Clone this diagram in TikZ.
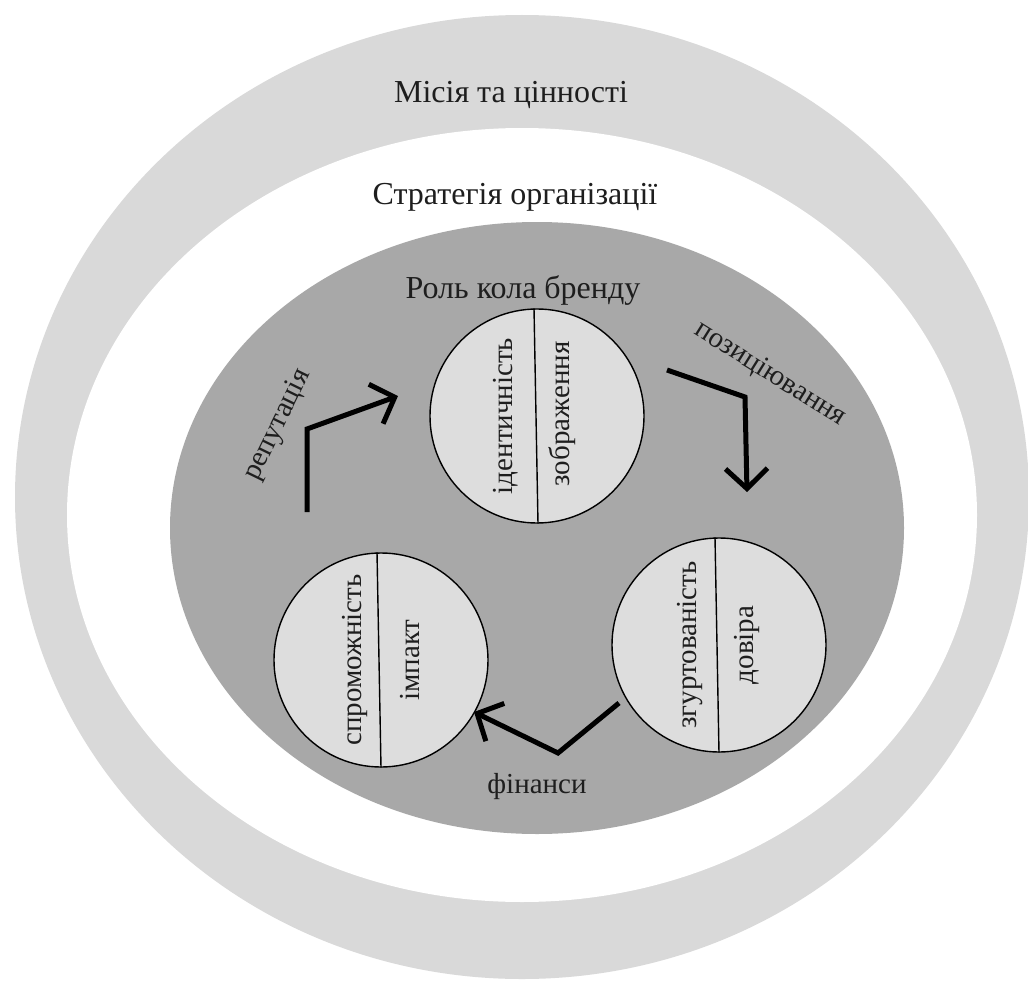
\documentclass[tikz,border=0pt]{standalone}
\usepackage{fontspec}
\setmainfont{Liberation Serif}
\usetikzlibrary{arrows.meta}
\definecolor{ringgray}{HTML}{D9D9D9}
\definecolor{coregray}{HTML}{A8A8A8}
\definecolor{discgray}{HTML}{DDDDDD}
\definecolor{inkgray}{HTML}{1E1E1E}
\tikzset{
  biglabel/.style={font=\fontsize{32}{35}\selectfont, text=inkgray, inner sep=0pt},
  smalllabel/.style={font=\fontsize{29}{31}\selectfont, text=inkgray, inner sep=0pt},
  disc/.style={circle, draw=black, line width=1.4pt, fill=discgray, minimum size=214pt, inner sep=0pt},
  divider/.style={draw=black, line width=1.4pt},
  flow/.style={draw=black, line width=5pt, line join=miter,
    -{Straight Barb[length=20pt, width=42pt, line width=5pt]}}
}
\begin{document}
\begin{tikzpicture}[x=1pt, y=1pt]
  \useasboundingbox (0,0) rectangle (1028,-982);
  \fill[white] (0,0) rectangle (1028,-982);

  % nested rings
  \fill[ringgray] (522,-497) ellipse [x radius=507, y radius=482];
  \fill[white] (522,-515) ellipse [x radius=455, y radius=387];
  \fill[coregray] (537,-528) ellipse [x radius=367, y radius=306];

  % ring titles
  \node[biglabel] (mission) at (511,-95) {Місія та цінності};
  \node[biglabel] (strategy) at (515,-197) {Стратегія організації};
  \node[biglabel] (brand) at (523,-290) {Роль кола бренду};

  % the three discs
  \node[disc] (d1) at (537,-416) {};
  \node[disc] (d2) at (719,-645) {};
  \node[disc] (d3) at (381,-660) {};

  \draw[divider] ([xshift=-3pt]d1.north) -- ([xshift=1pt]d1.south);
  \draw[divider] ([xshift=-4pt]d2.north) -- ([xshift=0pt]d2.south);
  \draw[divider] ([xshift=-4pt]d3.north) -- ([xshift=0pt]d3.south);

  \node[smalllabel, rotate=90] (identity) at (506,-416) {ідентичність};
  \node[smalllabel, rotate=90] (image) at (562,-414) {зображення};
  \node[smalllabel, rotate=90] (cohesion) at (690,-645) {згуртованість};
  \node[smalllabel, rotate=90] (trust) at (747,-645) {довіра};
  \node[smalllabel, rotate=90] (capacity) at (355,-660) {спроможність};
  \node[smalllabel, rotate=90] (impact) at (410,-660) {імпакт};

  % cycle arrows
  \coordinate (r0) at (307,-512);
  \coordinate (r1) at (307,-429);
  \coordinate (r2) at (398,-396);
  \draw[flow] (r0) -- (r1) -- (r2);

  \coordinate (p0) at (667,-370);
  \coordinate (p1) at (745,-397);
  \coordinate (p2) at (747,-492);
  \draw[flow] (p0) -- (p1) -- (p2);

  \coordinate (f0) at (619,-703);
  \coordinate (f1) at (558,-753);
  \coordinate (f2) at (474,-712);
  \draw[flow] (f0) -- (f1) -- (f2);

  % arrow captions
  \node[smalllabel, rotate=64] (reputation) at (278,-425) {репутація};
  \node[smalllabel, rotate=-32] (positioning) at (770,-374) {позиціювання};
  \node[smalllabel] (finance) at (537,-787) {фінанси};
\end{tikzpicture}
\end{document}
